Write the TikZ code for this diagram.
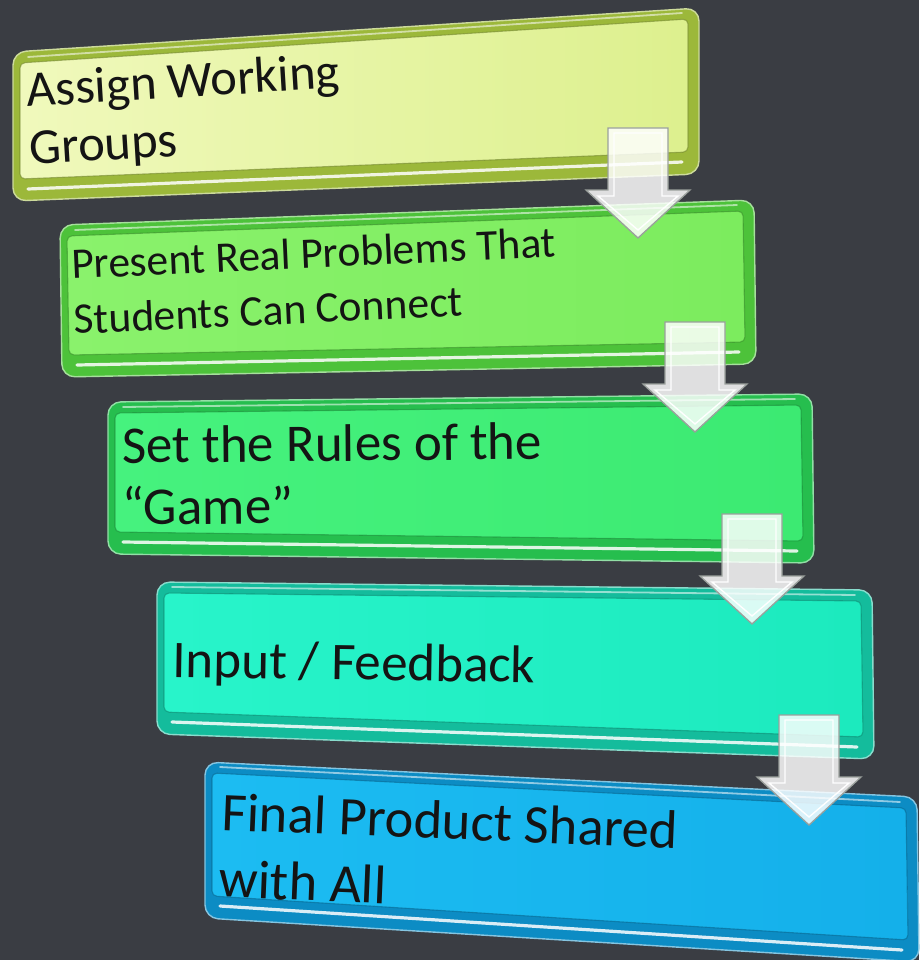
\documentclass[tikz,border=0pt]{standalone}
\usepackage{fontspec}
\setmainfont{Carlito}
\usetikzlibrary{calc}
\definecolor{bgc}{HTML}{3A3D43}
\definecolor{txtc}{HTML}{141414}
\definecolor{e1}{HTML}{9CB83A}\definecolor{l1}{HTML}{F0F9BC}\definecolor{r1}{HTML}{DDF08E}
\definecolor{e2}{HTML}{4DC23A}\definecolor{l2}{HTML}{8AF26C}\definecolor{r2}{HTML}{7CEC5E}
\definecolor{e3}{HTML}{26BE4E}\definecolor{l3}{HTML}{46F27E}\definecolor{r3}{HTML}{3CEA72}
\definecolor{e4}{HTML}{14BC9C}\definecolor{l4}{HTML}{28F4CA}\definecolor{r4}{HTML}{1CEABE}
\definecolor{e5}{HTML}{0C8CC4}\definecolor{l5}{HTML}{1CBCF2}\definecolor{r5}{HTML}{14B0EA}
\definecolor{arc}{HTML}{9AA09C}
\newcommand\drawpanel[4]{%
  \draw[rounded corners=13pt, fill=#2, draw=#2!50!white, line width=1.4pt]
    (#1tl) -- (#1tr) -- (#1br) -- (#1bl) -- cycle;
  \shade[rounded corners=5pt, left color=#3, right color=#4]
    ($(#1tl)+(7,11)$) -- ($(#1tr)+(-11,11)$) -- ($(#1br)+(-11,-22)$) -- ($(#1bl)+(7,-22)$) -- cycle;
  \draw[#2!70!black, opacity=.55, line width=1.1pt, rounded corners=5pt]
    ($(#1tl)+(7,11)$) -- ($(#1tr)+(-11,11)$) -- ($(#1br)+(-11,-22)$) -- ($(#1bl)+(7,-22)$) -- cycle;
  \draw[white, opacity=.85, line width=3.2pt, line cap=round]
    ($(#1bl)+(15,-12)$) -- ($(#1br)+(-17,-12)$);
  \draw[white, opacity=.55, line width=1.8pt, line cap=round]
    ($(#1tl)+(15,5)$) -- ($(#1tr)+(-17,5)$);
}
\newcommand\blockarrow[1]{%
  \draw[fill=white, fill opacity=.84, draw=arc, line width=1.3pt, line join=miter]
    ($(#1)+(-30,0)$) -- ($(#1)+(30,0)$) -- ($(#1)+(30,62)$) -- ($(#1)+(52,62)$)
    -- ($(#1)+(0,110)$) -- ($(#1)+(-52,62)$) -- ($(#1)+(-30,62)$) -- cycle;
  \draw[white, line width=1.4pt]
    ($(#1)+(-24,5)$) -- ($(#1)+(24,5)$) -- ($(#1)+(24,68)$) -- ($(#1)+(40,68)$)
    -- ($(#1)+(0,102)$) -- ($(#1)+(-40,68)$) -- ($(#1)+(-24,68)$) -- cycle;
}
\newcommand\twolines[2]{\vtop{\hbox{#1}\hbox{#2}}}
\tikzset{lbl/.style={anchor=base west, inner sep=0pt, text=txtc}}
\begin{document}
\begin{tikzpicture}[x=1pt,y=-1pt]
\fill[bgc] (0,0) rectangle (919,960);
\useasboundingbox (0,0) rectangle (919,960);
% box corners
\coordinate (atl) at (13,52);  \coordinate (atr) at (699,8);   \coordinate (abr) at (699,174); \coordinate (abl) at (13,201);
\coordinate (btl) at (60,225); \coordinate (btr) at (754,200); \coordinate (bbr) at (756,364); \coordinate (bbl) at (62,377);
\coordinate (ctl) at (108,402);\coordinate (ctr) at (812,394); \coordinate (cbr) at (814,563); \coordinate (cbl) at (108,554);
\coordinate (dtl) at (157,582);\coordinate (dtr) at (872,590); \coordinate (dbr) at (874,759); \coordinate (dbl) at (157,734);
\coordinate (etl) at (205,762);\coordinate (etr) at (917,797); \coordinate (ebr) at (919,962); \coordinate (ebl) at (205,918);
\drawpanel{a}{e1}{l1}{r1}
\drawpanel{b}{e2}{l2}{r2}
\drawpanel{c}{e3}{l3}{r3}
\drawpanel{d}{e4}{l4}{r4}
\drawpanel{e}{e5}{l5}{r5}
% texts
\node[lbl, font=\fontsize{50.5}{58}\selectfont, rotate=3.5] (t1) at (27,107) {\twolines{Assign Working}{Groups}};
\node[lbl, font=\fontsize{43.5}{55}\selectfont, rotate=2.6] (t2) at (72,279) {\twolines{Present Real Problems That}{Students Can Connect}};
\node[lbl, font=\fontsize{53}{62}\selectfont, rotate=0.5] (t3) at (122,463) {\twolines{Set the Rules of the}{“Game”}};
\node[lbl, font=\fontsize{53}{62}\selectfont, rotate=-0.9] (t4) at (172,677) {Input / Feedback};
\node[lbl, font=\fontsize{54.5}{67}\selectfont, rotate=-2.3] (t5) at (221,830) {\twolines{Final Product Shared}{with All}};
% arrows
\coordinate (ar1) at (638,128);
\coordinate (ar2) at (695,322);
\coordinate (ar3) at (752,514);
\coordinate (ar4) at (809,715);
\blockarrow{ar1}
\blockarrow{ar2}
\blockarrow{ar3}
\blockarrow{ar4}
\end{tikzpicture}
\end{document}
